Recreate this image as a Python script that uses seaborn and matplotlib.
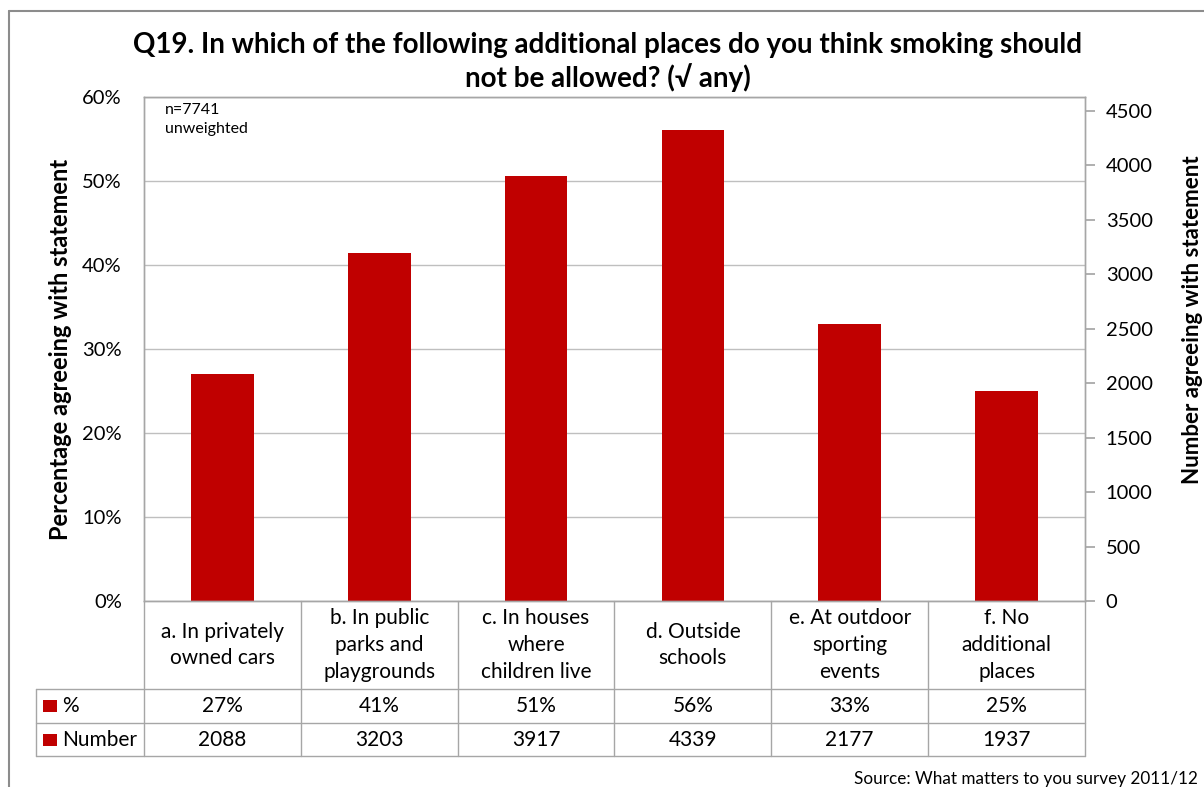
import matplotlib
matplotlib.use("Agg")
import matplotlib.pyplot as plt
import matplotlib.transforms as mtransforms
from matplotlib.lines import Line2D
from matplotlib.patches import Rectangle
import seaborn as sns
import pandas as pd

categories = ["a. In privately\nowned cars",
              "b. In public\nparks and\nplaygrounds",
              "c. In houses\nwhere\nchildren live",
              "d. Outside\nschools",
              "e. At outdoor\nsporting\nevents",
              "f. No\nadditional\nplaces"]
pct_values = [27.0, 41.4, 50.6, 56.1, 33.0, 25.0]
number_values = [2088, 3203, 3917, 4339, 2177, 1937]
left_ticks = [0, 10, 20, 30, 40, 50, 60]
right_ticks = [0, 500, 1000, 1500, 2000, 2500, 3000, 3500, 4000, 4500]

sns.set_theme(style="white")
plt.rcParams['font.family'] = ['Lato', 'DejaVu Sans']

RED = "#C00000"
GRID = "#BFBFBF"
LINE = "#A6A6A6"
TXT = 15

W, H = 1204, 787
fig = plt.figure(figsize=(W / 100, H / 100), dpi=100)
fig.patch.set_facecolor("white")

# plot area in pixels
px_l, px_r, px_t, px_b = 144, 1085, 97, 601
ax = fig.add_axes([px_l / W, (H - px_b) / H, (px_r - px_l) / W, (px_b - px_t) / H])

df = pd.DataFrame({"cat": categories, "pct": pct_values})
sns.barplot(data=df, x="cat", y="pct", color=RED, width=0.4, saturation=1,
            ax=ax, edgecolor="none")
ax.set_xlim(-0.5, len(categories) - 0.5)
ax.set_ylim(0, 60)
ax.set_yticks(left_ticks)
ax.set_yticklabels([f"{t}%" for t in left_ticks], fontsize=14.5, color="#000000")
ax.set_xticks([])
ax.set_xlabel("")
ax.set_ylabel("Percentage agreeing with statement", fontsize=17, fontweight="bold",
              labelpad=7, color="#000000")
ax.yaxis.grid(True, color=GRID, linewidth=1)
ax.set_axisbelow(True)
ax.tick_params(axis="y", length=0, pad=16)
for s in ax.spines.values():
    s.set_color(LINE)
    s.set_linewidth(1)

# right axis
ax2 = ax.twinx()
ax2.set_ylim(0, 4500 * (px_b - px_t) / (px_b - 111))
ax2.set_yticks(right_ticks)
ax2.set_yticklabels([str(t) for t in right_ticks], fontsize=14.5, color="#000000")
ax2.tick_params(axis="y", direction="out", length=7, color=LINE, pad=8)
ax2.set_ylabel("Number agreeing with statement", fontsize=16, fontweight="bold",
               color="#000000")
ax2.yaxis.set_label_coords((1182 - px_l) / (px_r - px_l), (px_b - 320) / (px_b - px_t))
for s in ax2.spines.values():
    s.set_color(LINE)
    s.set_linewidth(1)
ax2.grid(False)

# n text
ax.text(0.022, 0.988, "n=7741\nunweighted", transform=ax.transAxes, ha="left", va="top",
        fontsize=11.5, linespacing=1.45, color="#000000")

# data table
trans = mtransforms.blended_transform_factory(ax.transData, ax.transAxes)
n = len(categories)
cat_px = (px_r - px_l) / n
left_edge = -0.5 - (px_l - 36) / cat_px
y_lab = -(689 - px_b) / (px_b - px_t)
y_pct = -(723 - px_b) / (px_b - px_t)
y_num = -(756 - px_b) / (px_b - px_t)

def hline(x0, x1, y):
    ax.add_line(Line2D([x0, x1], [y, y], transform=trans, color=LINE, lw=1, clip_on=False))

def vline(x, y0, y1):
    ax.add_line(Line2D([x, x], [y0, y1], transform=trans, color=LINE, lw=1, clip_on=False))

hline(left_edge, n - 0.5, y_lab)
hline(left_edge, n - 0.5, y_pct)
hline(left_edge, n - 0.5, y_num)
vline(left_edge, y_lab, y_num)
for i in range(n + 1):
    vline(i - 0.5, 0, y_num)

for i, (c, p, num) in enumerate(zip(categories, pct_values, number_values)):
    ax.text(i, y_lab / 2, c, transform=trans, ha="center", va="center",
            fontsize=TXT, linespacing=1.42, color="#000000")
    ax.text(i, (y_lab + y_pct) / 2, f"{round(p):d}%", transform=trans, ha="center",
            va="center", fontsize=TXT, color="#000000")
    ax.text(i, (y_pct + y_num) / 2, f"{num}", transform=trans, ha="center",
            va="center", fontsize=TXT, color="#000000")

sq_w = 14 / cat_px
sq_h = 12 / (px_b - px_t)
for row_y0, row_y1, label in [(y_lab, y_pct, "%"), (y_pct, y_num, "Number")]:
    yc = (row_y0 + row_y1) / 2
    x0 = left_edge + 7 / cat_px
    ax.add_patch(Rectangle((x0, yc - sq_h / 2), sq_w, sq_h, transform=trans,
                           facecolor=RED, edgecolor="none", clip_on=False))
    ax.text(x0 + sq_w + 5 / cat_px, yc, label, transform=trans, ha="left", va="center",
            fontsize=TXT, color="#000000")

# title
fig.text(608 / W, 1 - 62 / H,
         "Q19. In which of the following additional places do you think smoking should\nnot be allowed? (\u221a any)",
         ha="center", va="center", fontsize=20, fontweight="bold", linespacing=1.2,
         color="#000000")

# source
fig.text(1198 / W, 1 - 779 / H, "Source: What matters to you survey 2011/12",
         ha="right", va="center", fontsize=12.3, color="#000000")

# outer border
fig.add_artist(Line2D([9 / W, 9 / W], [0, 1 - 11 / H], transform=fig.transFigure,
                      color="#8C8C8C", lw=1.5))
fig.add_artist(Line2D([9 / W, 1], [1 - 11 / H, 1 - 11 / H], transform=fig.transFigure,
                      color="#8C8C8C", lw=1.5))

fig.savefig("out.png", dpi=100, facecolor="white")
